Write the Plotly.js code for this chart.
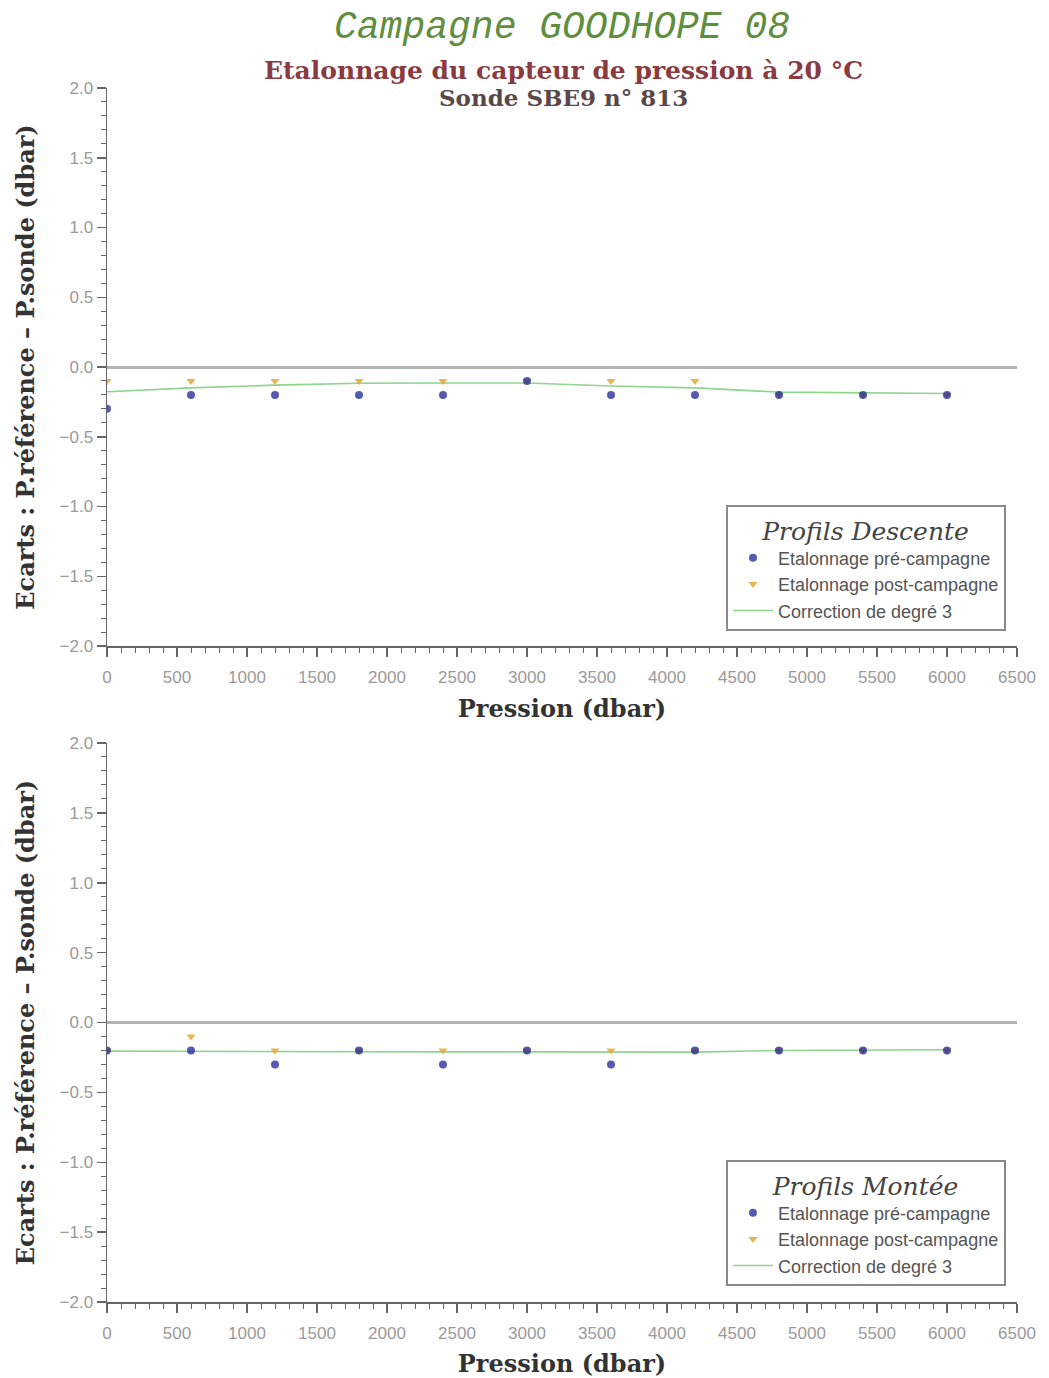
<!DOCTYPE html>
<html><head><meta charset="utf-8">
<script src="https://cdn.plot.ly/plotly-3.0.1.min.js"></script>
<style>html,body{margin:0;padding:0;background:#fff}#c{width:1049px;height:1378px}</style>
</head><body><div id="c"></div>
<script>
var pressures = [0,600,1200,1800,2400,3000,3600,4200,4800,5400,6000];
var descPre  = [-0.3,-0.2,-0.2,-0.2,-0.2,-0.1,-0.2,-0.2,-0.2,-0.2,-0.2];
var descPost = [-0.1,-0.1,-0.1,-0.1,-0.1,-0.1,-0.1,-0.1,-0.2,-0.2,-0.2];
var descFit  = [-0.177,-0.15,-0.13,-0.117,-0.115,-0.115,-0.136,-0.15,-0.18,-0.186,-0.19];
var ascPre   = [-0.2,-0.2,-0.3,-0.2,-0.3,-0.2,-0.3,-0.2,-0.2,-0.2,-0.2];
var ascPost  = [-0.2,-0.1,-0.2,-0.2,-0.2,-0.2,-0.2,-0.2,-0.2,-0.2,-0.2];
var ascFit   = [-0.205,-0.207,-0.21,-0.21,-0.21,-0.21,-0.211,-0.212,-0.2,-0.195,-0.195];
var names = ['Etalonnage pré-campagne','Etalonnage post-campagne','Correction de degré 3'];

var blue = '#1c249a', orange = '#e6a832', green = '#8fd48f';
function tr(xa, ya, leg, post, pre, fit){
  return [
    {x:pressures, y:fit, xaxis:xa, yaxis:ya, legend:leg, mode:'lines', name:names[2], line:{color:green,width:1.6}, legendrank:3},
    {x:pressures, y:post, xaxis:xa, yaxis:ya, legend:leg, mode:'markers', name:names[1], marker:{symbol:'triangle-down',size:8,color:orange,opacity:0.85}, legendrank:2},
    {x:pressures, y:pre, xaxis:xa, yaxis:ya, legend:leg, mode:'markers', name:names[0], marker:{symbol:'circle',size:8,color:blue,opacity:0.75}, legendrank:1}
  ];
}
var data = tr('x','y','legend',descPost,descPre,descFit).concat(tr('x2','y2','legend2',ascPost,ascPre,ascFit));

var H = 1378;
var tickFont = {family:'Liberation Sans, sans-serif', size:17, color:'#9a9a9a'};
var titleFont = {family:'DejaVu Serif, serif', size:24, color:'#333', weight:'bold'};
function xax(anchor){
  return {anchor:anchor, range:[0,6500], dtick:500, tick0:0, ticks:'outside', ticklen:9, tickwidth:1.5, tickcolor:'#666',
    showline:true, linecolor:'#666', linewidth:1.5, showgrid:false, zeroline:false, tickfont:tickFont, ticklabelstandoff:6,
    minor:{dtick:100, ticks:'outside', ticklen:5, tickcolor:'#666', tickwidth:1},
    title:{text:'Pression (dbar)', font:titleFont, standoff:14}};
}
function yax(anchor, dom){
  return {anchor:anchor, domain:dom, range:[-2,2], dtick:0.5, tick0:0, tickformat:'.1f', ticks:'outside', ticklen:9, tickwidth:1.5, tickcolor:'#666',
    showline:true, linecolor:'#666', linewidth:1.5, showgrid:false, zeroline:true, zerolinecolor:'#b4b4b4', zerolinewidth:3,
    tickfont:tickFont,
    minor:{dtick:0.1, ticks:'outside', ticklen:5, tickcolor:'#666', tickwidth:1},
    title:{text:'Ecarts : P.référence – P.sonde (dbar)', font:titleFont, standoff:18}};
}
function leg(title, ytop){
  return {title:{text:title, side:'top center', font:{family:'DejaVu Serif, serif', size:25, style:'italic', color:'#444'}},
    x:(726-107)/910, xanchor:'left', y:(H-ytop)/H, yref:'paper', yanchor:'top',
    bgcolor:'#fff', bordercolor:'#888', borderwidth:2,
    font:{family:'Liberation Sans, sans-serif', size:18, color:'#555'}, tracegroupgap:0, itemwidth:40};
}
var layout = {
  width:1049, height:1378, paper_bgcolor:'#fff', plot_bgcolor:'#fff',
  margin:{l:107, r:32, t:0, b:0}, showlegend:true,
  xaxis:xax('y'), yaxis:yax('x',[(H-646)/H,(H-88)/H]),
  xaxis2:xax('y2'), yaxis2:yax('x2',[(H-1302)/H,(H-743)/H]),
  legend:leg('Profils Descente',505), legend2:leg('Profils Montée',1160),
  annotations:[
    {text:'Campagne GOODHOPE 08', xref:'paper', yref:'paper', x:(562-107)/910, y:(H-28)/H, xanchor:'center', yanchor:'middle', showarrow:false,
     font:{family:'Liberation Mono, monospace', size:38, style:'italic', color:'#5f8e3e'}},
    {text:'Etalonnage du capteur de pression à 20 °C', xref:'paper', yref:'paper', x:(563-107)/910, y:(H-70)/H, xanchor:'center', yanchor:'middle', showarrow:false,
     font:{family:'DejaVu Serif, serif', size:25, weight:'bold', color:'#8a3a40'}},
    {text:'Sonde SBE9 n° 813', xref:'paper', yref:'paper', x:(563-107)/910, y:(H-98)/H, xanchor:'center', yanchor:'middle', showarrow:false,
     font:{family:'DejaVu Serif, serif', size:23, weight:'bold', color:'#5a4848'}}
  ]
};
Plotly.newPlot('c', data, layout, {displayModeBar:false, staticPlot:true});
</script></body></html>
